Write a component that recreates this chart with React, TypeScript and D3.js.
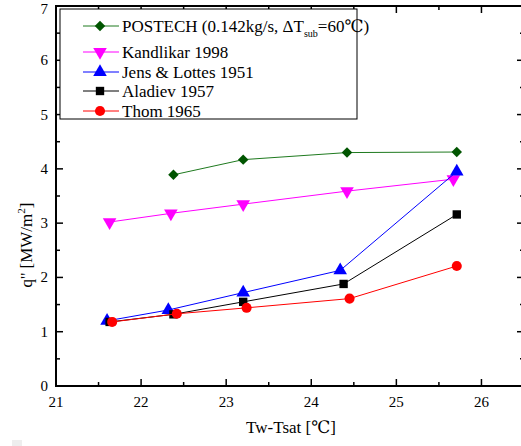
import React, { useEffect, useRef } from "react";
import * as d3 from "d3";

const postechX = [22.38, 23.2, 24.42, 25.71];
const postechY = [3.89, 4.17, 4.3, 4.31];
const kandlikarX = [21.63, 22.35, 23.2, 24.42, 25.67];
const kandlikarY = [3.02, 3.18, 3.35, 3.59, 3.81];
const jensX = [21.6, 22.32, 23.2, 24.34, 25.71];
const jensY = [1.2, 1.4, 1.72, 2.13, 3.95];
const aladievX = [21.63, 22.38, 23.2, 24.38, 25.71];
const aladievY = [1.18, 1.32, 1.55, 1.88, 3.16];
const thomX = [21.66, 22.42, 23.24, 24.45, 25.71];
const thomY = [1.18, 1.33, 1.44, 1.61, 2.21];

const xTicks = [21, 22, 23, 24, 25, 26];
const yTicks = [0, 1, 2, 3, 4, 5, 6, 7];

const series = [
  { name: "POSTECH", xs: postechX, ys: postechY, color: "#1f7a1f", fill: "#005500", sym: d3.symbolDiamond2, size: 70, rot: 0 },
  { name: "Kandlikar 1998", xs: kandlikarX, ys: kandlikarY, color: "#ff00ff", fill: "#ff00ff", sym: d3.symbolTriangle, size: 80, rot: 180 },
  { name: "Jens & Lottes 1951", xs: jensX, ys: jensY, color: "#0000ff", fill: "#0000ff", sym: d3.symbolTriangle, size: 80, rot: 0 },
  { name: "Aladiev 1957", xs: aladievX, ys: aladievY, color: "#000000", fill: "#000000", sym: d3.symbolSquare, size: 70, rot: 0 },
  { name: "Thom 1965", xs: thomX, ys: thomY, color: "#ff0000", fill: "#ff0000", sym: d3.symbolCircle, size: 80, rot: 0 },
];

const FONT = "Liberation Serif, Times New Roman, DejaVu Serif, serif";

const App = () => {
  const ref = useRef<SVGSVGElement>(null);

  useEffect(() => {
    const svg = d3.select(ref.current);
    svg.selectAll("*").remove();

    const left = 56, right = 524, top = 6, bottom = 386;
    const x = d3.scaleLinear().domain([21, 26.5]).range([left, right]);
    const y = d3.scaleLinear().domain([0, 7]).range([bottom, top]);

    svg.append("rect").attr("x", 0).attr("y", 0).attr("width", 521).attr("height", 446).attr("fill", "#fff");

    const tickLen = 7, minorLen = 4;
    const g = svg.append("g");
    // bottom & top ticks
    for (let v = 21; v <= 26.5; v += 0.5) {
      const len = Number.isInteger(v) ? tickLen : minorLen;
      g.append("line").attr("x1", x(v)).attr("x2", x(v)).attr("y1", bottom).attr("y2", bottom - len)
        .attr("stroke", "#000").attr("stroke-width", 1.5);
      g.append("line").attr("x1", x(v)).attr("x2", x(v)).attr("y1", top).attr("y2", top + len)
        .attr("stroke", "#000").attr("stroke-width", 1.5);
    }
    // left & right ticks
    for (let v = 0; v <= 7; v += 0.5) {
      const len = Number.isInteger(v) ? tickLen : minorLen;
      g.append("line").attr("x1", left).attr("x2", left + len).attr("y1", y(v)).attr("y2", y(v))
        .attr("stroke", "#000").attr("stroke-width", 1.5);
      g.append("line").attr("x1", right).attr("x2", right - len).attr("y1", y(v)).attr("y2", y(v))
        .attr("stroke", "#000").attr("stroke-width", 1.5);
    }
    g.append("rect").attr("x", left).attr("y", top).attr("width", right - left).attr("height", bottom - top)
      .attr("fill", "none").attr("stroke", "#000").attr("stroke-width", 2);

    g.selectAll(".xl").data(xTicks).join("text").attr("class", "xl")
      .attr("x", d => x(d)).attr("y", bottom + 21).attr("text-anchor", "middle")
      .attr("font-family", FONT).attr("font-size", 15).text(d => d);
    g.selectAll(".yl").data(yTicks).join("text").attr("class", "yl")
      .attr("x", left - 8).attr("y", d => Math.max(y(d) + 5, 14)).attr("text-anchor", "end")
      .attr("font-family", FONT).attr("font-size", 15).text(d => d);

    svg.append("text").attr("x", 291).attr("y", 433).attr("text-anchor", "middle")
      .attr("font-family", FONT).attr("font-size", 17).text("Tw-Tsat [℃]");

    const yl = svg.append("text").attr("transform", "translate(32,245) rotate(-90)")
      .attr("text-anchor", "middle").attr("font-family", FONT).attr("font-size", 17);
    yl.append("tspan").text("q'' [MW/m");
    yl.append("tspan").attr("dy", -7).attr("font-size", 11).text("2");
    yl.append("tspan").attr("dy", 7).text("]");

    const line = d3.line<[number, number]>().x(d => x(d[0])).y(d => y(d[1]));
    series.forEach(s => {
      const pts: [number, number][] = s.xs.map((v, i) => [v, s.ys[i]]);
      svg.append("path").attr("d", line(pts)).attr("fill", "none").attr("stroke", s.color).attr("stroke-width", 1);
      const shape = d3.symbol().type(s.sym).size(s.size)();
      svg.selectAll(null).data(pts).join("path")
        .attr("d", shape)
        .attr("transform", d => `translate(${x(d[0])},${y(d[1])}) rotate(${s.rot})`)
        .attr("fill", s.fill);
    });

    // legend
    const lg = svg.append("g");
    lg.append("rect").attr("x", 60).attr("y", 9).attr("width", 297).attr("height", 110)
      .attr("fill", "#fff").attr("stroke", "#000").attr("stroke-width", 1);
    const rows = [26, 52, 72, 91, 111];
    series.forEach((s, i) => {
      const ry = rows[i];
      lg.append("line").attr("x1", 83).attr("x2", 119).attr("y1", ry).attr("y2", ry)
        .attr("stroke", s.color).attr("stroke-width", 1);
      lg.append("path").attr("d", d3.symbol().type(s.sym).size(s.size)())
        .attr("transform", `translate(100,${ry}) rotate(${s.rot})`).attr("fill", s.fill);
      const t = lg.append("text").attr("x", 122).attr("y", ry + 6)
        .attr("font-family", FONT).attr("font-size", 17);
      if (i === 0) {
        t.append("tspan").text("POSTECH (0.142kg/s, ΔT");
        t.append("tspan").attr("dy", 5).attr("font-size", 10).text("sub");
        t.append("tspan").attr("dy", -5).text("=60℃)");
      } else {
        t.text(s.name);
      }
    });

    svg.append("rect").attr("x", 12).attr("y", 440).attr("width", 10).attr("height", 6).attr("fill", "#eee");
  }, []);

  return <svg ref={ref} width={521} height={446} style={{ position: "absolute", left: 0, top: 0 }}></svg>;
};

export default App;
